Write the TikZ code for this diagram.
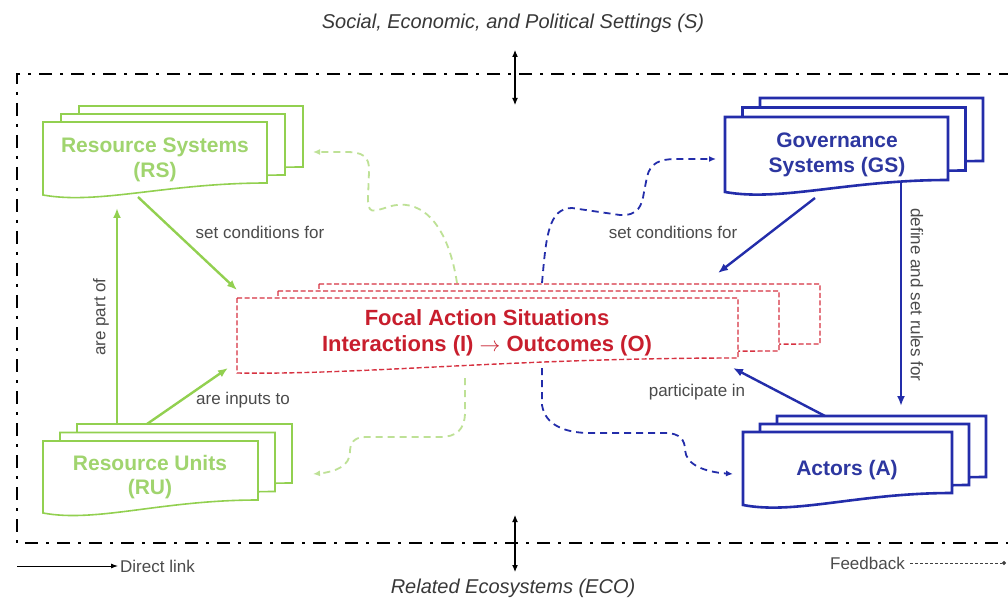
\documentclass[tikz,border=0pt]{standalone}
\usepackage{fontspec}
\setmainfont{Liberation Sans}
\usetikzlibrary{arrows.meta}
\definecolor{gline}{RGB}{146,208,80}
\definecolor{gtext}{RGB}{160,212,110}
\definecolor{gdash}{RGB}{190,225,150}
\definecolor{bline}{RGB}{35,45,170}
\definecolor{btext}{RGB}{45,55,160}
\definecolor{rline}{RGB}{215,50,65}
\definecolor{rtext}{RGB}{200,30,45}
\definecolor{lbl}{RGB}{75,75,75}
% style, x0, y0, x1, yr, yl, dip
\newcommand\mydoc[7]{%
 \pgfmathsetmacro\cA{#2+0.55*(#4-#2)}%
 \pgfmathsetmacro\cB{#2+0.25*(#4-#2)}%
 \pgfmathsetmacro\cy{#6+#7}%
 \draw[#1] (#2,#3) -- (#4,#3) -- (#4,#5) .. controls (\cA,#5) and (\cB,\cy) .. (#2,#6) -- cycle;}
% style, x0,y0,x1,yr,yl,dip, dx, dy
\newcommand\mystack[9]{%
 \pgfmathsetmacro\sxA{2*#8}\pgfmathsetmacro\syA{2*(#9)}%
 \begin{scope}[shift={(\sxA,\syA)}]\mydoc{#1}{#2}{#3}{#4}{#5}{#6}{#7}\end{scope}
 \begin{scope}[shift={(#8,#9)}]\mydoc{#1}{#2}{#3}{#4}{#5}{#6}{#7}\end{scope}
 \mydoc{#1}{#2}{#3}{#4}{#5}{#6}{#7}}
\begin{document}
\begin{tikzpicture}[x=1pt,y=-1pt,
  lab/.style={text=lbl,font=\fontsize{17}{20}\selectfont,inner sep=0pt},
  ttl/.style={text=black!78,font=\fontsize{20}{24}\selectfont\itshape,inner sep=0pt},
  gtxt/.style={text=gtext,font=\fontsize{21}{24.5}\selectfont\bfseries,align=center,inner sep=0pt},
  btxt/.style={text=btext,font=\fontsize{21}{24.5}\selectfont\bfseries,align=center,inner sep=0pt},
  ftxt/.style={text=rtext,font=\fontsize{22}{26}\selectfont\bfseries,align=center,inner sep=0pt},
  gbox/.style={draw=gline,line width=1.6pt,fill=white,line join=miter},
  bbox/.style={draw=bline,line width=2.6pt,fill=white,line join=miter},
  rbox/.style={draw=rline,line width=1.4pt,dash pattern=on 5pt off 2.5pt,fill=white},
  tipA/.style={-{Latex[length=10pt,width=8pt]}},
  garrow/.style={tipA,draw=gline,line width=2.4pt},
  barrow/.style={tipA,draw=bline,line width=2.4pt},
  gfb/.style={draw=gdash,line width=1.8pt,dash pattern=on 7pt off 5pt,-{Latex[length=7pt,width=6pt]}},
  bfb/.style={draw=bline,line width=1.8pt,dash pattern=on 7pt off 5pt,-{Latex[length=7pt,width=6pt]}},
  frameline/.style={draw=black,line width=2.6pt,dash pattern=on 13pt off 8pt on 3pt off 8pt},
  dbl/.style={{Latex[length=7pt,width=6pt]}-{Latex[length=7pt,width=6pt]},line width=1.1pt,draw=black}
]
\useasboundingbox (0,0) rectangle (1008,601);
\fill[white] (0,0) rectangle (1008,601);

% outer frame
\draw[frameline] (1012,74) -- (17,74) -- (17,543) -- (1012,543);

% titles
\node[ttl] (stitle) at (513,23) {Social, Economic, and Political Settings (S)};
\node[ttl] (ecotitle) at (513,588) {Related Ecosystems (ECO)};
\coordinate (sa1) at (515,50); \coordinate (sa2) at (515,105);
\draw[dbl] (sa1) -- (sa2);
\coordinate (ea1) at (515,515); \coordinate (ea2) at (515,572);
\draw[dbl] (ea1) -- (ea2);

% feedback dashed curves
\coordinate (gfA) at (457,283); \coordinate (gfB) at (313,152);
\draw[gfb] (gfA) .. controls (447,218) and (417,197) .. (388,207)
  .. controls (372,212) and (368,214) .. (368,198) -- (369,172)
  .. controls (370,156) and (362,152) .. (346,152) -- (gfB);
\coordinate (gfC) at (465,378); \coordinate (gfD) at (313,474);
\draw[gfb] (gfC) -- (465,412) .. controls (465,430) and (456,437) .. (440,437) -- (366,437)
  .. controls (353,437) and (350,444) .. (350,452) .. controls (350,466) and (335,472) .. (gfD);
\coordinate (bfA) at (542,283); \coordinate (bfB) at (716,159);
\draw[bfb] (bfA) .. controls (546,238) and (548,208) .. (572,208) -- (620,215)
  .. controls (638,216) and (642,206) .. (644,192) -- (647,177)
  .. controls (650,163) and (660,159) .. (676,159) -- (bfB);
\coordinate (bfC) at (542,368); \coordinate (bfD) at (733,474);
\draw[bfb] (bfC) -- (542,405) .. controls (545,425) and (565,433) .. (590,433) -- (665,433)
  .. controls (680,433) and (685,440) .. (685,450) .. controls (686,465) and (705,472) .. (bfD);

% boxes
\mystack{gbox}{43}{122}{267}{183}{195}{10}{18}{-8}
\node[gtxt] (rs) at (155,160) {Resource Systems\\(RS)};
\mystack{gbox}{43}{441}{258}{500}{513}{10}{17}{-8.5}
\node[gtxt] (ru) at (150,477) {Resource Units\\(RU)};
\mystack{bbox}{725}{117}{948}{180}{192}{10}{17.5}{-9.5}
\node[btxt] (gs) at (837,155) {Governance\\Systems (GS)};
\mystack{bbox}{743}{432}{952}{493}{505}{10}{17}{-8}
\node[btxt] (ac) at (847,470) {Actors (A)};
\mystack{rbox}{237}{298}{738}{358}{373}{2}{41}{-7}
\node[ftxt] (focal) at (487,333) {Focal Action Situations\\Interactions (I) {\normalfont$\rightarrow$} Outcomes (O)};

% direct links
\coordinate (rsOut) at (138,197); \coordinate (focTL) at (237,290);
\draw[garrow] (rsOut) -- (focTL);
\node[lab] (l1) at (260,232) {set conditions for};
\coordinate (ruTop1) at (117,424); \coordinate (rsBot1) at (117,208);
\draw[garrow] (ruTop1) -- (rsBot1);
\node[lab,rotate=90] (l2) at (101,317) {are part of};
\coordinate (ruTop2) at (147,424); \coordinate (focBL) at (228,368);
\draw[garrow] (ruTop2) -- (focBL);
\node[lab] (l3) at (243,400) {are inputs to};
\coordinate (gsOut) at (815,198); \coordinate (focTR) at (718,273);
\draw[barrow] (gsOut) -- (focTR);
\node[lab] (l4) at (673,232) {set conditions for};
\coordinate (gsOut2) at (901,182); \coordinate (acIn) at (901,406);
\draw[barrow] (gsOut2) -- (acIn);
\node[lab,rotate=-90] (l5) at (917,295) {define and set rules for};
\coordinate (acOut) at (825,416); \coordinate (focR) at (733,368);
\draw[barrow] (acOut) -- (focR);
\node[lab] (l6) at (697,392) {participate in};

% legend
\coordinate (dl1) at (17,566); \coordinate (dl2) at (118,566);
\draw[line width=0.9pt,-{Latex[length=7pt,width=5pt]}] (dl1) -- (dl2);
\node[lab,anchor=west] (dlt) at (120,566) {Direct link};
\node[lab,anchor=east] (fbt) at (905,563) {Feedback};
\coordinate (fb1) at (910,563); \coordinate (fb2) at (1006,563);
\draw[black!75,line width=0.8pt,dash pattern=on 3pt off 2pt,-{Circle[length=4pt]}] (fb1) -- (fb2);
\end{tikzpicture}
\end{document}
